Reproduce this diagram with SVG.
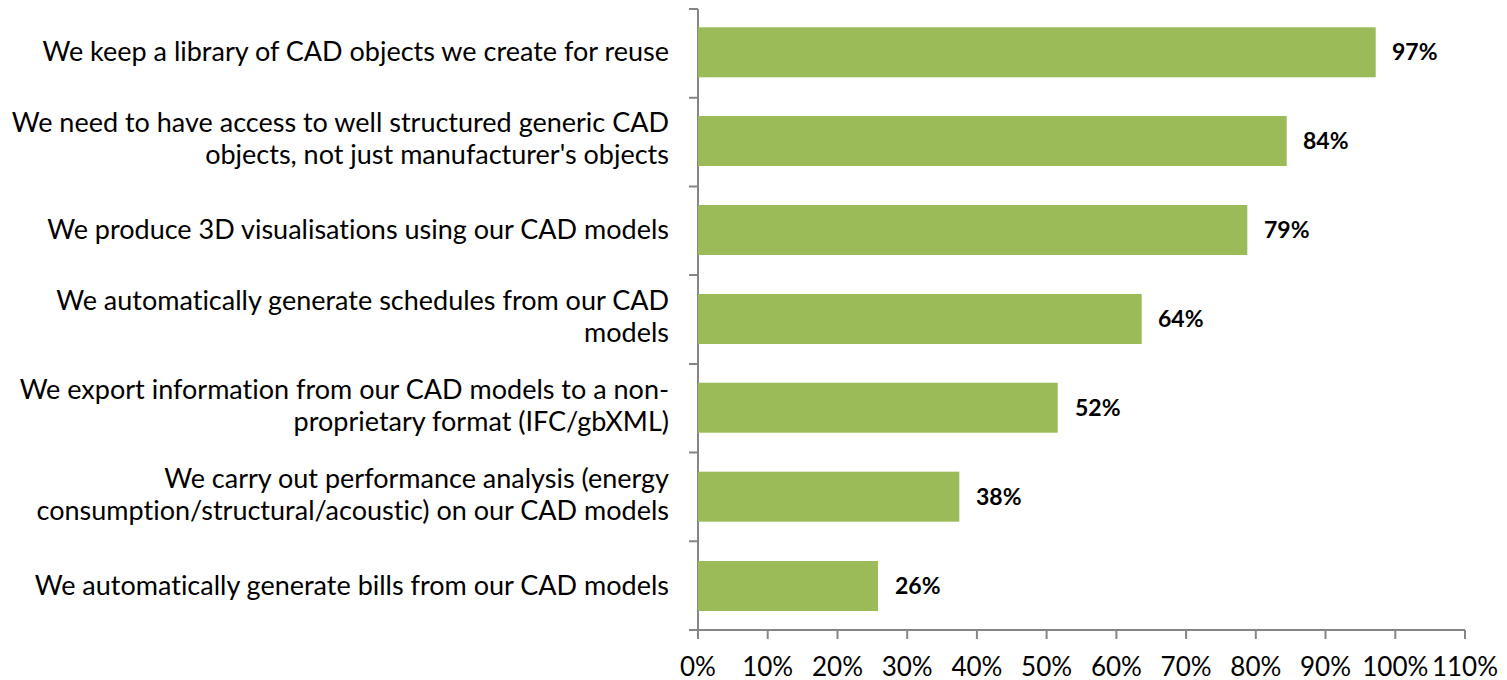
<svg xmlns="http://www.w3.org/2000/svg" width="1507" height="680" viewBox="0 0 1507 680">
<style>
text{font-variant-ligatures:none;font-feature-settings:"liga" 0,"dlig" 0}
.cat{font-family:Lato,"Open Sans",sans-serif;font-size:27px;fill:#000;text-anchor:end}
.val{font-family:Lato,"Open Sans",sans-serif;font-size:23px;font-weight:bold;fill:#000}
.tick{font-family:Lato,"Open Sans",sans-serif;font-size:26px;fill:#000;text-anchor:middle}
.bar{fill:#9BBB59}
.ax{stroke:#868686;stroke-width:2;fill:none}
</style>
<rect width="1507" height="680" fill="#fff"/>
<g id="axes">
<path class="ax" d="M698,9V630H1465"/>
<path class="ax" d="M689,9H698M689,97.7H698M689,186.4H698M689,275.1H698M689,363.9H698M689,452.6H698M689,541.3H698M689,630H698"/>
<path class="ax" d="M698,630V639M767.7,630V639M837.5,630V639M907.2,630V639M976.9,630V639M1046.6,630V639M1116.4,630V639M1186.1,630V639M1255.8,630V639M1325.5,630V639M1395.3,630V639M1465,630V639"/>
</g>
<g id="xlabels">
<text class="tick" x="698" y="676">0%</text>
<text class="tick" x="767.7" y="676">10%</text>
<text class="tick" x="837.5" y="676">20%</text>
<text class="tick" x="907.2" y="676">30%</text>
<text class="tick" x="976.9" y="676">40%</text>
<text class="tick" x="1046.6" y="676">50%</text>
<text class="tick" x="1116.4" y="676">60%</text>
<text class="tick" x="1186.1" y="676">70%</text>
<text class="tick" x="1255.8" y="676">80%</text>
<text class="tick" x="1325.5" y="676">90%</text>
<text class="tick" x="1395.3" y="676">100%</text>
<text class="tick" x="1465" y="676">110%</text>
</g>
<g id="bar1"><rect class="bar" x="698" y="27.3" width="677.7" height="50"/><text class="val" x="1392" y="60">97%</text><text class="cat" x="669" y="61">We keep a library of CAD objects we create for reuse</text></g>
<g id="bar2"><rect class="bar" x="698" y="116" width="588.7" height="50"/><text class="val" x="1303" y="149">84%</text><text class="cat" x="669" y="132">We need to have access to well structured generic CAD</text><text class="cat" x="669" y="164">objects, not just manufacturer's objects</text></g>
<g id="bar3"><rect class="bar" x="698" y="205" width="549.3" height="50"/><text class="val" x="1264" y="238">79%</text><text class="cat" x="669" y="239">We produce 3D visualisations using our CAD models</text></g>
<g id="bar4"><rect class="bar" x="698" y="294" width="443.7" height="50"/><text class="val" x="1158" y="327">64%</text><text class="cat" x="669" y="310">We automatically generate schedules from our CAD</text><text class="cat" x="669" y="342">models</text></g>
<g id="bar5"><rect class="bar" x="698" y="382.7" width="359.7" height="50"/><text class="val" x="1075" y="416">52%</text><text class="cat" x="669" y="399">We export information from our CAD models to a non-</text><text class="cat" x="669" y="431">proprietary format (IFC/gbXML)</text></g>
<g id="bar6"><rect class="bar" x="698" y="471.7" width="261.3" height="50"/><text class="val" x="976" y="505">38%</text><text class="cat" x="669" y="488">We carry out performance analysis (energy</text><text class="cat" x="669" y="520">consumption/structural/acoustic) on our CAD models</text></g>
<g id="bar7"><rect class="bar" x="698" y="561" width="180" height="50"/><text class="val" x="895" y="594">26%</text><text class="cat" x="669" y="595">We automatically generate bills from our CAD models</text></g>
</svg>
